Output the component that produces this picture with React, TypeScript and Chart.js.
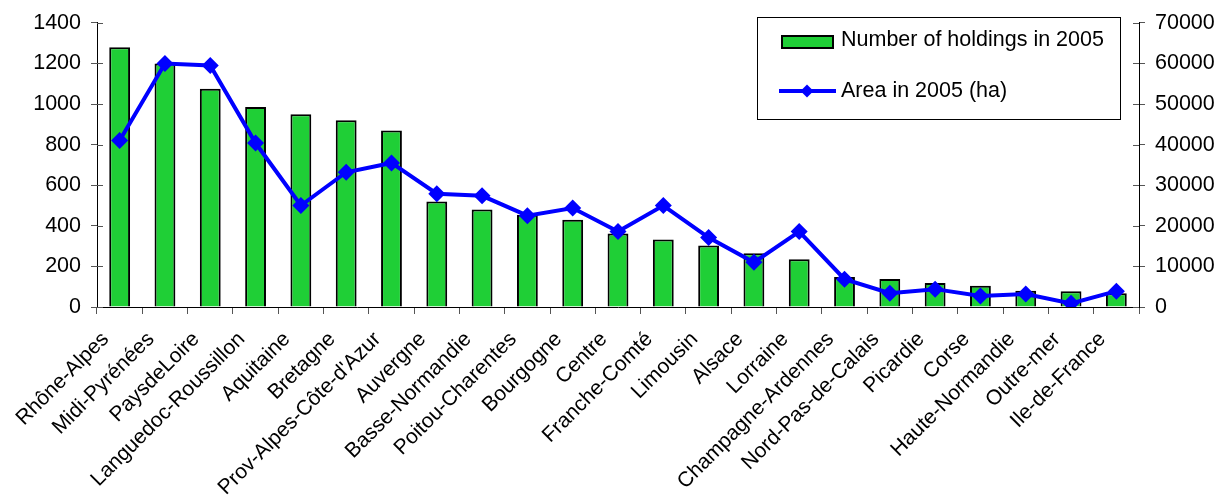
import { useEffect, useRef } from 'react';
import { Chart, registerables } from 'chart.js';

Chart.register(...registerables);

const regions = [
  'Rhône-Alpes', 'Midi-Pyrénées', 'PaysdeLoire', 'Languedoc-Roussillon', 'Aquitaine',
  'Bretagne', "Prov-Alpes-Côte-d'Azur", 'Auvergne', 'Basse-Normandie', 'Poitou-Charentes',
  'Bourgogne', 'Centre', 'Franche-Comté', 'Limousin', 'Alsace', 'Lorraine',
  'Champagne-Ardennes', 'Nord-Pas-de-Calais', 'Picardie', 'Corse', 'Haute-Normandie',
  'Outre-mer', 'Ile-de-France',
];

const holdings2005 = [
  1280, 1200, 1075, 985, 950, 920, 870, 520, 480, 455, 430, 362, 333, 303, 265, 235,
  148, 138, 118, 105, 80, 78, 68,
];

const area2005Ha = [
  41000, 60000, 59500, 40400, 25000, 33200, 35500, 27900, 27400, 22500, 24400, 18600,
  25000, 17100, 11000, 18600, 6850, 3400, 4400, 2700, 3200, 900, 3900,
];

const holdingsTicks = { min: 0, max: 1400, step: 200 };
const areaTicks = { min: 0, max: 70000, step: 10000 };

const holdingsLabel = 'Number of holdings in 2005';
const areaLabel = 'Area in 2005 (ha)';

const FONT = "'Liberation Sans', Arial, sans-serif";
const TEXT_SIZE = 21.5;
const CATEGORY_SIZE = 21;
const BAR_GREEN = '#1fcf36';
const LINE_BLUE = '#0000ff';
const TICK_GREY = '#555555';

// Inner half of the crossing tick marks on both value axes
const crossTicks = {
  id: 'crossTicks',
  afterDraw(chart: Chart) {
    const ctx = chart.ctx;
    ctx.save();
    ctx.strokeStyle = TICK_GREY;
    ctx.lineWidth = 1;
    const left = chart.scales.y;
    const right = chart.scales.y1;
    left.ticks.forEach((t) => {
      const py = Math.round(left.getPixelForValue(t.value)) + 0.5;
      ctx.beginPath();
      ctx.moveTo(left.right, py);
      ctx.lineTo(left.right + 6, py);
      ctx.stroke();
    });
    right.ticks.forEach((t) => {
      const py = Math.round(right.getPixelForValue(t.value)) + 0.5;
      ctx.beginPath();
      ctx.moveTo(right.left - 6, py);
      ctx.lineTo(right.left, py);
      ctx.stroke();
    });
    ctx.restore();
  },
};

// Slanted category names under the x axis
const slantedLabels = {
  id: 'slantedLabels',
  afterDraw(chart: Chart) {
    const ctx = chart.ctx;
    const xs = chart.scales.x;
    ctx.save();
    ctx.fillStyle = '#000000';
    ctx.font = `${CATEGORY_SIZE}px ${FONT}`;
    ctx.textAlign = 'right';
    ctx.textBaseline = 'middle';
    regions.forEach((name, i) => {
      const px = xs.getPixelForValue(i);
      ctx.save();
      ctx.translate(px - 14, xs.top + 29);
      ctx.rotate(-Math.PI / 4);
      ctx.fillText(name, 0, 0);
      ctx.restore();
    });
    ctx.restore();
  },
};

// Boxed legend inside the plot, upper right
const boxedLegend = {
  id: 'boxedLegend',
  afterDraw(chart: Chart) {
    const ctx = chart.ctx;
    ctx.save();
    const x0 = 757.5, y0 = 17.5, w = 363, h = 102;
    ctx.fillStyle = '#ffffff';
    ctx.fillRect(x0, y0, w, h);
    ctx.strokeStyle = '#000000';
    ctx.lineWidth = 1;
    ctx.strokeRect(x0, y0, w, h);

    // bar swatch
    ctx.fillStyle = BAR_GREEN;
    ctx.fillRect(782, 36, 51, 12);
    ctx.lineWidth = 2;
    ctx.strokeRect(782, 36, 51, 12);

    // line swatch with its diamond
    ctx.strokeStyle = LINE_BLUE;
    ctx.lineWidth = 4;
    ctx.beginPath();
    ctx.moveTo(779, 91);
    ctx.lineTo(836, 91);
    ctx.stroke();
    ctx.fillStyle = LINE_BLUE;
    ctx.beginPath();
    ctx.moveTo(807, 84.5);
    ctx.lineTo(813.5, 91);
    ctx.lineTo(807, 97.5);
    ctx.lineTo(800.5, 91);
    ctx.closePath();
    ctx.fill();

    ctx.fillStyle = '#000000';
    ctx.font = `${TEXT_SIZE}px ${FONT}`;
    ctx.textBaseline = 'middle';
    ctx.textAlign = 'left';
    ctx.fillText(holdingsLabel, 841, 40.5);
    ctx.fillText(areaLabel, 841, 91);
    ctx.restore();
  },
};

export default function App() {
  const canvasRef = useRef<HTMLCanvasElement | null>(null);

  useEffect(() => {
    const canvas = canvasRef.current;
    if (!canvas) return;
    const tickFont = { family: FONT, size: TEXT_SIZE };
    const plain = (v: number | string) => String(v);
    const chart = new Chart(canvas, {
      type: 'bar',
      data: {
        labels: regions,
        datasets: [
          {
            type: 'line',
            label: areaLabel,
            data: area2005Ha,
            yAxisID: 'y1',
            borderColor: LINE_BLUE,
            backgroundColor: LINE_BLUE,
            borderWidth: 4,
            pointStyle: 'rectRot',
            pointRadius: 8.5,
            pointBorderWidth: 0,
            pointBackgroundColor: LINE_BLUE,
            tension: 0,
            order: 1,
          },
          {
            type: 'bar',
            label: holdingsLabel,
            data: holdings2005,
            yAxisID: 'y',
            backgroundColor: BAR_GREEN,
            borderColor: '#000000',
            borderWidth: 2,
            barPercentage: 0.46,
            categoryPercentage: 1,
            order: 2,
          },
        ],
      },
      options: {
        responsive: false,
        animation: false,
        layout: { padding: { top: 21, left: 0, right: 0, bottom: 0 } },
        plugins: {
          legend: { display: false },
          tooltip: { enabled: false },
        },
        scales: {
          x: {
            grid: {
              offset: true,
              drawOnChartArea: false,
              drawTicks: true,
              tickLength: 7,
              color: TICK_GREY,
            },
            border: { color: '#000000', width: 1 },
            ticks: { display: false, autoSkip: false },
            afterFit: (s: any) => { s.height = 188; },
          },
          y: {
            position: 'left',
            min: holdingsTicks.min,
            max: holdingsTicks.max,
            ticks: { stepSize: holdingsTicks.step, font: tickFont, color: '#000000', padding: 10, callback: plain },
            grid: { drawOnChartArea: false, tickLength: 6, color: TICK_GREY },
            border: { color: '#000000', width: 1 },
            afterFit: (s: any) => { s.width = 97; },
          },
          y1: {
            position: 'right',
            min: areaTicks.min,
            max: areaTicks.max,
            ticks: { stepSize: areaTicks.step, font: tickFont, color: '#000000', padding: 10, callback: plain },
            grid: { drawOnChartArea: false, tickLength: 6, color: TICK_GREY },
            border: { color: '#000000', width: 1 },
            afterFit: (s: any) => { s.width = 88; },
          },
        },
      },
      plugins: [crossTicks, slantedLabels, boxedLegend],
    });
    return () => chart.destroy();
  }, []);

  return (
    <div style={{ position: 'absolute', left: 0, top: 0, width: 1227, height: 495, background: '#ffffff' }}>
      <canvas ref={canvasRef} width={1227} height={495} />
    </div>
  );
}
